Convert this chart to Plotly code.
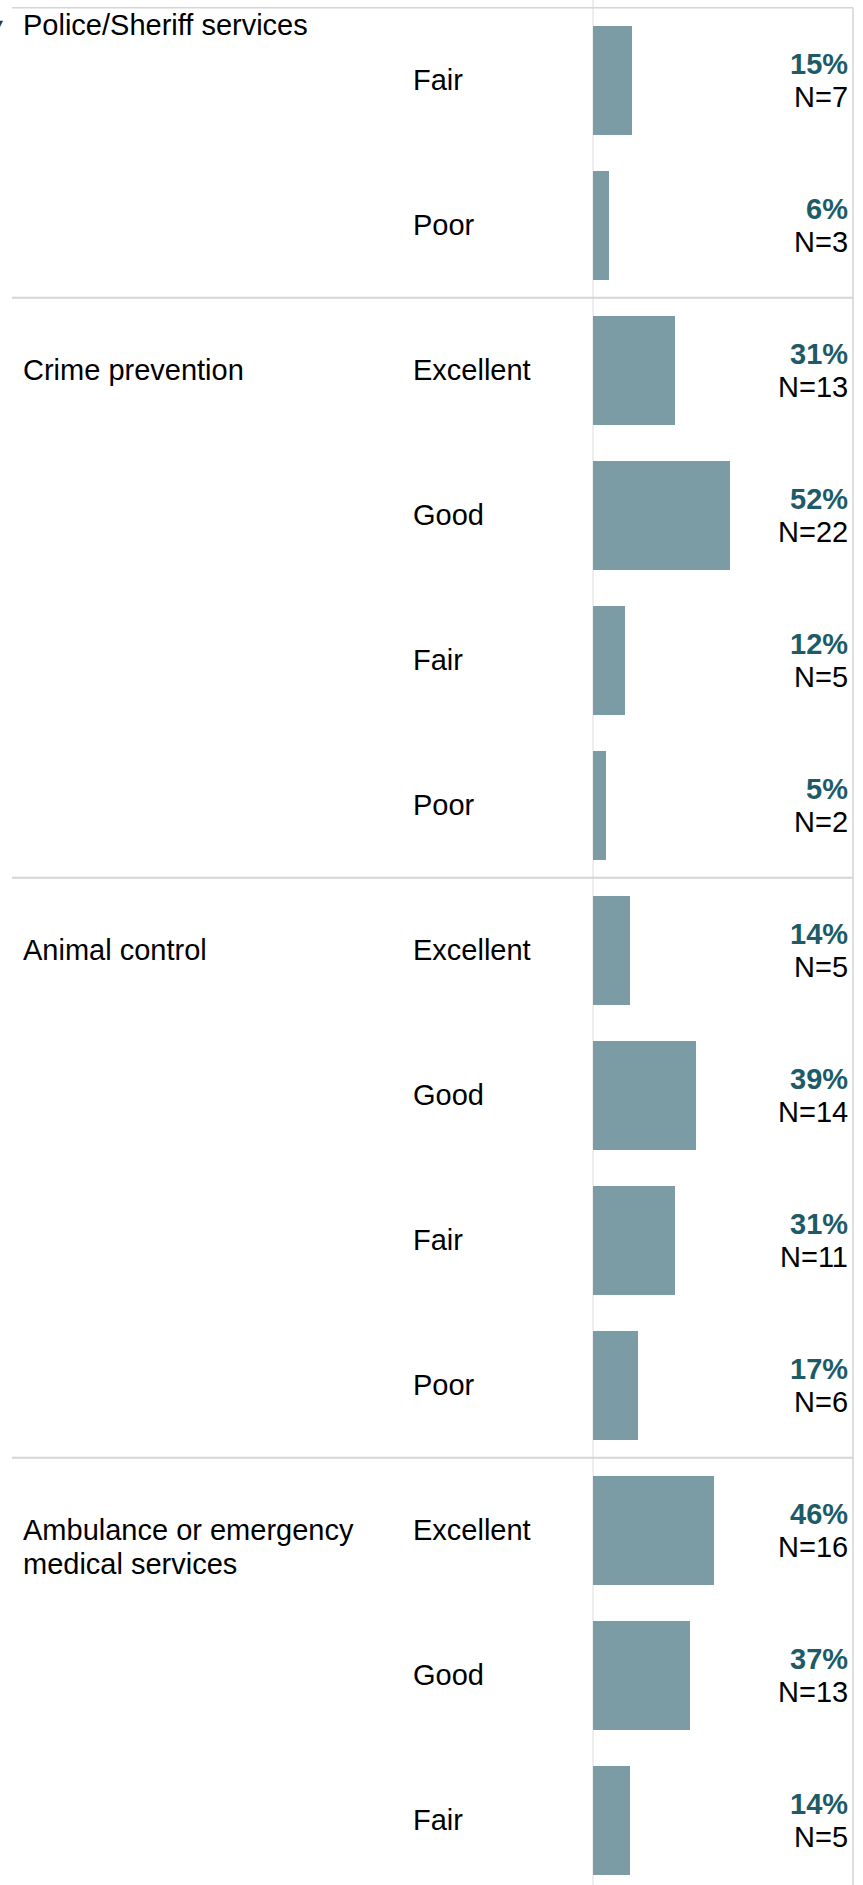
import plotly.graph_objects as go

# ---- data ----
groups = ["Police/Sheriff services", "Crime prevention", "Animal control",
          "Ambulance or emergency<br>medical services"]
group_sizes = [2, 4, 4, 3]
ratings = ["Fair", "Poor",
           "Excellent", "Good", "Fair", "Poor",
           "Excellent", "Good", "Fair", "Poor",
           "Excellent", "Good", "Fair"]
pct = [15, 6, 31, 52, 12, 5, 14, 39, 31, 17, 46, 37, 14]
counts = [7, 3, 13, 22, 5, 2, 5, 14, 11, 6, 16, 13, 5]

W, H = 863, 1885
FONT = "Liberation Sans, Arial, sans-serif"
FS = 29
BAR_COLOR = "#7b9ca5"
PCT_COLOR = "#1e5b68"
SEP_COLOR = "#d5d5d5"
VLINE_COLOR = "#dcdcdc"

rows = list(range(len(pct)))

# scale: bars start at px 593, 2.63 px per percent
bar_x0_px = 593
px_per_unit = 2.63
x_lo = -bar_x0_px / px_per_unit
x_hi = x_lo + W / px_per_unit

row_px = 145.0
first_center_px = 80.3
y_top = -first_center_px / row_px
y_bot = y_top + H / row_px

fig = go.Figure()
fig.add_trace(go.Bar(
    x=pct, y=rows, orientation="h", width=0.75,
    marker=dict(color=BAR_COLOR, line=dict(width=0)),
    hoverinfo="skip", showlegend=False,
))

ann = []
# rating labels and value labels
for r, lab, p, n in zip(rows, ratings, pct, counts):
    ann.append(dict(x=411 / W, xref="paper", y=r, yref="y", text=lab,
                    xanchor="left", yanchor="middle", showarrow=False,
                    font=dict(family=FONT, size=FS, color="#000000")))
    ann.append(dict(x=850 / W, xref="paper", y=r, yref="y", text=f"<b>{p}%</b>",
                    xanchor="right", yanchor="middle", yshift=16, showarrow=False,
                    font=dict(family=FONT, size=FS, color=PCT_COLOR)))
    ann.append(dict(x=850 / W, xref="paper", y=r, yref="y", text=f"N={n}",
                    xanchor="right", yanchor="middle", yshift=-17, showarrow=False,
                    font=dict(family=FONT, size=FS, color="#000000")))

# group labels
shapes = []
start = 0
boundaries = []
for gi, (g, size) in enumerate(zip(groups, group_sizes)):
    lines = g.split("<br>")
    for li, line in enumerate(lines):
        if gi == 0:
            # sticky header label at the top of the scrolled pane
            yy, yr, ys = 1 - 25 / H, "paper", 0
        else:
            yy, yr, ys = start, "y", -34 * li
        ann.append(dict(x=21 / W, xref="paper", y=yy, yref=yr, text=line,
                        xanchor="left", yanchor="middle", yshift=ys, showarrow=False,
                        font=dict(family=FONT, size=FS, color="#000000")))
    boundaries.append(start - 0.5)
    start += size

# partially visible sort arrow at the very left
ann.append(dict(x=5 / W, xref="paper", y=1 - 24 / H, yref="paper", text="▼",
                xanchor="right", yanchor="middle", showarrow=False,
                font=dict(family="DejaVu Sans", size=13, color="#333333")))

# horizontal separators (top edge + between groups)
for i, b in enumerate(boundaries):
    shapes.append(dict(type="line", xref="paper", yref="y",
                       x0=12 / W, x1=853 / W, y0=b, y1=b,
                       line=dict(color=SEP_COLOR, width=2 if i > 0 else 1.5)))
# vertical axis line at zero
shapes.append(dict(type="line", xref="x", yref="paper", x0=0, x1=0, y0=0, y1=1,
                   line=dict(color=VLINE_COLOR, width=1), layer="below"))
# right border
shapes.append(dict(type="line", xref="paper", yref="y", x0=853 / W, x1=853 / W,
                   y0=boundaries[0], y1=y_bot,
                   line=dict(color=SEP_COLOR, width=1.5)))

fig.update_layout(
    width=W, height=H,
    margin=dict(l=0, r=0, t=0, b=0),
    paper_bgcolor="white", plot_bgcolor="white",
    xaxis=dict(range=[x_lo, x_hi], domain=[0, 1], visible=False, fixedrange=True),
    yaxis=dict(range=[y_bot, y_top], domain=[0, 1], visible=False, fixedrange=True),
    annotations=ann, shapes=shapes, bargap=0,
)

fig.write_html("out.html", config={"displayModeBar": False},
               post_script="document.body.style.margin='0px';document.body.style.overflow='hidden';")
